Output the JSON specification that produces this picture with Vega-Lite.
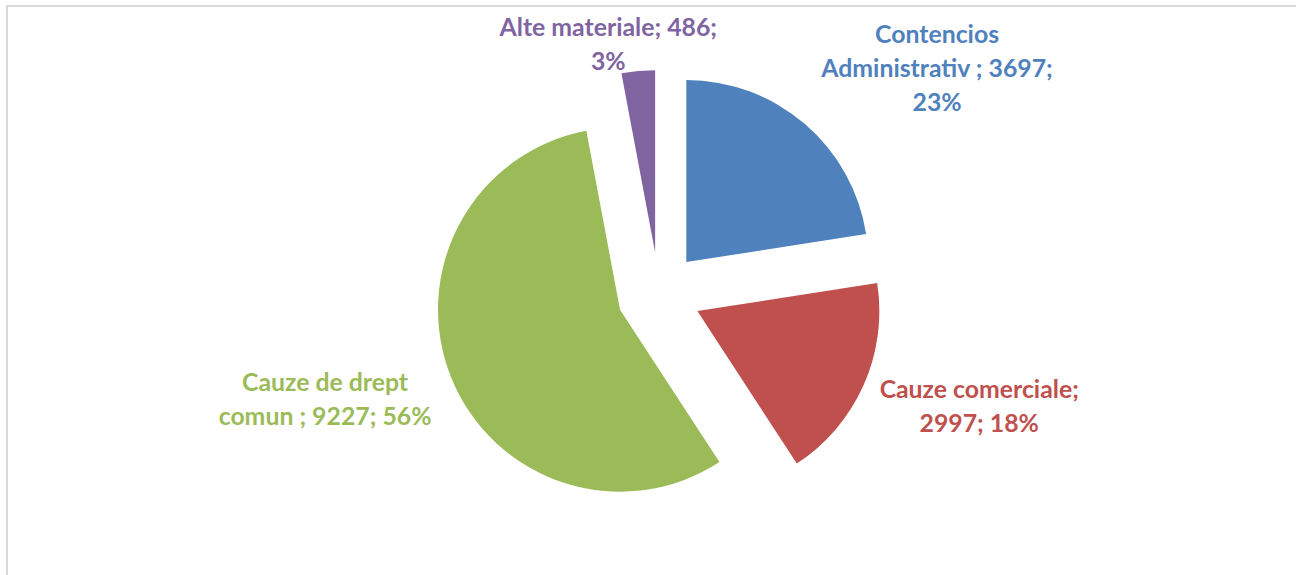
{
  "$schema": "https://vega.github.io/schema/vega-lite/v6.json",
  "width": 1304,
  "height": 576,
  "autosize": {"type": "none"},
  "padding": {"left": 7, "top": 6, "right": 0, "bottom": 0},
  "background": "white",
  "view": {"stroke": "#d9d9d9", "strokeWidth": 2, "fill": "white"},
  "config": {"view": {"stroke": "#d9d9d9", "strokeWidth": 2}},
  "data": {
    "values": [
      {"category": "Contencios Administrativ", "value": 3697, "rank": 1, "lines": ["Contencios", "Administrativ ; 3697;", "23%"]},
      {"category": "Cauze comerciale", "value": 2997, "rank": 2, "lines": ["Cauze comerciale;", "2997; 18%"]},
      {"category": "Cauze de drept comun", "value": 9227, "rank": 3, "lines": ["Cauze de drept", "comun ; 9227; 56%"]},
      {"category": "Alte materiale", "value": 486, "rank": 4, "lines": ["Alte materiale; 486;", "3%"]}
    ]
  },
  "encoding": {
    "theta": {"field": "value", "type": "quantitative", "stack": true},
    "order": {"field": "rank", "type": "quantitative", "sort": "ascending"},
    "color": {
      "field": "category",
      "type": "nominal",
      "legend": null,
      "scale": {
        "domain": ["Contencios Administrativ", "Cauze comerciale", "Cauze de drept comun", "Alte materiale"],
        "range": ["#4F81BD", "#C0504D", "#9BBB59", "#8064A2"]
      }
    }
  },
  "layer": [
    {
      "mark": {
        "type": "arc",
        "outerRadius": 182,
        "xOffset": {"expr": "42*sin(scale('theta',(datum.value_start+datum.value_end)/2))"},
        "yOffset": {"expr": "-42*cos(scale('theta',(datum.value_start+datum.value_end)/2))"}
      }
    },
    {
      "mark": {
        "type": "text",
        "radius": 224,
        "font": "Lato",
        "fontWeight": "bold",
        "fontSize": 24.8,
        "lineHeight": 34,
        "align": "center",
        "baseline": "middle",
        "dx": {"expr": "clamp(3*sin(scale('theta',(datum.value_start+datum.value_end)/2)),-1,1)*(61+2.1*length(join(datum.lines,'')))"},
        "dy": {"expr": "-clamp(3*cos(scale('theta',(datum.value_start+datum.value_end)/2)),-1,1)*((length(datum.lines)-1)*29-5)-(length(datum.lines)-1)*17-1"}
      },
      "encoding": {
        "text": {"field": "lines"}
      }
    }
  ]
}
